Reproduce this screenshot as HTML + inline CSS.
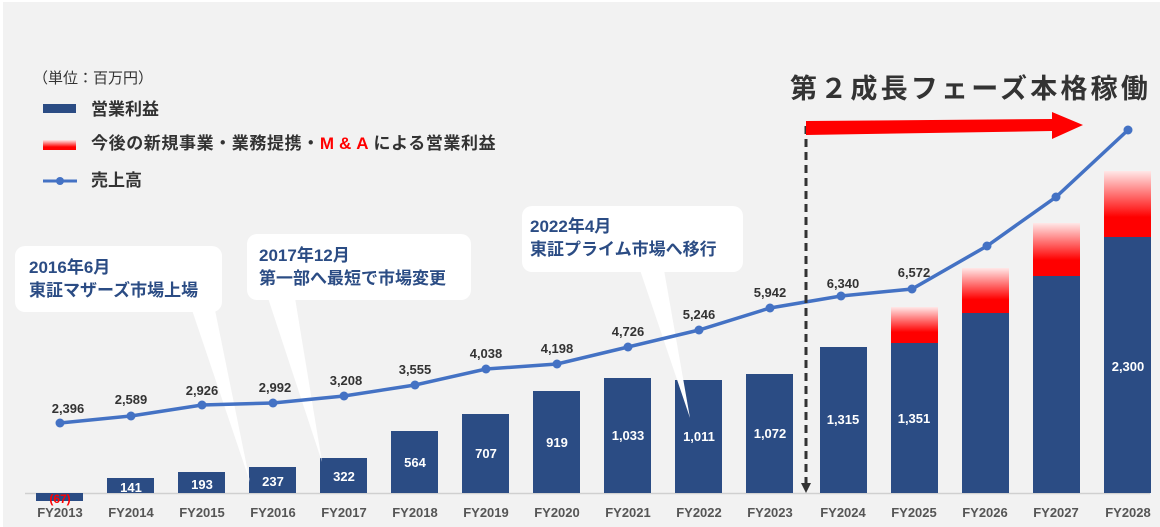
<!DOCTYPE html>
<html><head><meta charset="utf-8"><style>
html,body{margin:0;padding:0;background:#fff}
svg{display:block}
text{font-family:"Liberation Sans","Noto Sans CJK JP",sans-serif}
</style></head><body>
<svg width="1160" height="527" viewBox="0 0 1160 527" xmlns="http://www.w3.org/2000/svg">
<defs>
<linearGradient id="rg" x1="0" y1="1" x2="0" y2="0">
<stop offset="0" stop-color="#ff0000"/><stop offset="0.3" stop-color="#ff0000"/><stop offset="1" stop-color="#ffe8e8"/>
</linearGradient>
</defs>
<rect x="3" y="2" width="1157" height="525" fill="#f2f2f2"/>
<!-- legend -->
<text x="33" y="83" font-size="15" fill="#333">（単位：百万円）</text>
<rect x="43" y="104" width="33" height="9" fill="#2b4c84"/>
<text x="91" y="115" font-size="17" fill="#333" font-weight="bold">営業利益</text>
<rect x="43" y="140" width="33" height="10" fill="url(#rg)"/>
<text x="91" y="149" font-size="17" fill="#333" font-weight="bold" letter-spacing="0.6">今後の新規事業・業務提携・<tspan fill="#ff0000" letter-spacing="5">M&amp;A</tspan>による営業利益</text>
<line x1="43" y1="181" x2="77" y2="181" stroke="#4472c4" stroke-width="3"/>
<circle cx="60" cy="181" r="4" fill="#4472c4"/>
<text x="91" y="186" font-size="17" fill="#333" font-weight="bold">売上高</text>
<!-- title -->
<text x="790" y="98" font-size="27" fill="#333" font-weight="bold" letter-spacing="3.2">第２成長フェーズ本格稼働</text>
<!-- baseline -->
<line x1="25" y1="493.5" x2="1150" y2="493.5" stroke="#d0d0d0" stroke-width="1.5"/>
<!-- bars -->
<g fill="#2b4c84">
<rect x="36" y="493" width="47" height="8"/>
<rect x="107" y="478" width="47" height="15"/>
<rect x="178" y="472" width="47" height="21"/>
<rect x="249" y="467" width="47" height="26"/>
<rect x="320" y="458" width="47" height="35"/>
<rect x="391" y="431" width="47" height="62"/>
<rect x="462" y="414" width="47" height="79"/>
<rect x="533" y="391" width="47" height="102"/>
<rect x="604" y="378" width="47" height="115"/>
<rect x="675" y="380" width="47" height="113"/>
<rect x="746" y="374" width="47" height="119"/>
<rect x="820" y="347" width="47" height="146"/>
<rect x="891" y="343" width="47" height="150"/>
<rect x="962" y="313" width="47" height="180"/>
<rect x="1033" y="276" width="47" height="217"/>
<rect x="1104" y="237" width="47" height="256"/>
</g>
<g fill="url(#rg)">
<rect x="891" y="307" width="47" height="36"/>
<rect x="962" y="268" width="47" height="45"/>
<rect x="1033" y="223" width="47" height="53"/>
<rect x="1104" y="171" width="47" height="66"/>
</g>
<!-- bar labels -->
<g font-size="13" fill="#fff" font-weight="bold" text-anchor="middle">
<text x="131" y="492">141</text><text x="202" y="489">193</text><text x="273" y="486">237</text>
<text x="344" y="481">322</text><text x="415" y="467">564</text><text x="486" y="458">707</text>
<text x="557" y="447">919</text><text x="628" y="440">1,033</text><text x="699" y="441">1,011</text>
<text x="770" y="438">1,072</text><text x="843" y="424">1,315</text><text x="914" y="423">1,351</text>
<text x="1128" y="371">2,300</text>
</g>
<text x="60" y="503" font-size="12" fill="#ff0000" font-weight="bold" text-anchor="middle">(67)</text>
<!-- x labels -->
<g font-size="13" fill="#555" font-weight="bold" text-anchor="middle">
<text x="60" y="517">FY2013</text><text x="131" y="517">FY2014</text><text x="202" y="517">FY2015</text>
<text x="273" y="517">FY2016</text><text x="344" y="517">FY2017</text><text x="415" y="517">FY2018</text>
<text x="486" y="517">FY2019</text><text x="557" y="517">FY2020</text><text x="628" y="517">FY2021</text>
<text x="699" y="517">FY2022</text><text x="770" y="517">FY2023</text><text x="843" y="517">FY2024</text>
<text x="914" y="517">FY2025</text><text x="985" y="517">FY2026</text><text x="1056" y="517">FY2027</text>
<text x="1128" y="517">FY2028</text>
</g>
<!-- callouts -->
<g fill="#fff">
<rect x="15" y="246" width="207" height="66" rx="10"/>
<polygon points="192,310 215,310 250,482"/>
<rect x="247" y="234" width="224" height="66" rx="10"/>
<polygon points="268,298 295,298 322,462"/>
<rect x="522" y="206" width="221" height="66" rx="10"/>
<polygon points="640,270 664,270 690,418"/>
</g>
<g font-size="17" fill="#2b4c84" font-weight="bold">
<text x="29" y="273">2016年6月</text><text x="29" y="296">東証マザーズ市場上場</text>
<text x="259" y="261">2017年12月</text><text x="259" y="284">第一部へ最短で市場変更</text>
<text x="530" y="232">2022年4月</text><text x="530" y="255">東証プライム市場へ移行</text>
</g>
<!-- line -->
<polyline fill="none" stroke="#4472c4" stroke-width="3.5" points="60,423 131,416 202,405 273,403 344,396 415,385 486,369 557,364 628,347 699,330 770,308 841,296 912,289 987,246 1056,197 1128,130"/>
<g fill="#4472c4">
<circle cx="60" cy="423" r="4.5"/><circle cx="131" cy="416" r="4.5"/><circle cx="202" cy="405" r="4.5"/>
<circle cx="273" cy="403" r="4.5"/><circle cx="344" cy="396" r="4.5"/><circle cx="415" cy="385" r="4.5"/>
<circle cx="486" cy="369" r="4.5"/><circle cx="557" cy="364" r="4.5"/><circle cx="628" cy="347" r="4.5"/>
<circle cx="699" cy="330" r="4.5"/><circle cx="770" cy="308" r="4.5"/><circle cx="841" cy="296" r="4.5"/>
<circle cx="912" cy="289" r="4.5"/><circle cx="987" cy="246" r="4.5"/><circle cx="1056" cy="197" r="4.5"/>
<circle cx="1128" cy="130" r="4.5"/>
</g>
<g font-size="13" fill="#333" font-weight="bold" text-anchor="middle">
<text x="68" y="413">2,396</text><text x="131" y="404">2,589</text><text x="202" y="395">2,926</text>
<text x="275" y="392">2,992</text><text x="346" y="385">3,208</text><text x="415" y="374">3,555</text>
<text x="486" y="358">4,038</text><text x="557" y="353">4,198</text><text x="628" y="336">4,726</text>
<text x="699" y="319">5,246</text><text x="770" y="297">5,942</text><text x="843" y="288">6,340</text>
<text x="914" y="277">6,572</text>
</g>
<!-- dashed line + arrow -->
<line x1="806" y1="126" x2="806" y2="484" stroke="#333" stroke-width="3" stroke-dasharray="8,5"/>
<polygon points="801,483 811,483 806,493" fill="#333"/>
<polygon points="806,121 1052,119 1052,112 1083,125 1052,139 1052,131 806,135" fill="#ff0000"/>
</svg>
</body></html>
